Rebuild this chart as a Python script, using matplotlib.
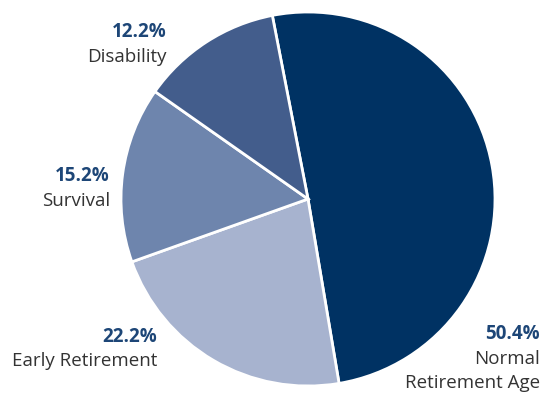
import matplotlib.pyplot as plt

categories = ["Normal\nRetirement Age", "Early Retirement", "Survival", "Disability"]
shares = [50.4, 22.2, 15.2, 12.2]
colors = ["#003263", "#a7b3cf", "#6e85ad", "#435d8c"]

W, H = 549, 397
fig = plt.figure(figsize=(W / 100, H / 100), dpi=100)
ax = fig.add_axes([0, 0, 1, 1])

ax.pie(shares, colors=colors, startangle=101, counterclock=False,
       center=(308, H - 199), radius=187, frame=True,
       wedgeprops=dict(edgecolor="white", linewidth=2))
ax.set_xlim(0, W)
ax.set_ylim(0, H)
ax.set_aspect("equal")
ax.axis("off")

# right edge x and vertical centre of the percentage line for each label
label_pos = {
    "Normal\nRetirement Age": (540, 334),
    "Early Retirement": (157, 337),
    "Survival": (110, 176),
    "Disability": (167, 32),
}
font = "Open Sans"
line_gap = 24.5
for cat, val in zip(categories, shares):
    x, y = label_pos[cat]
    ax.text(x, H - y, f"{val:.1f}%", ha="right", va="center", fontsize=13.5,
            fontweight="bold", color="#1d4677", family=font)
    for i, line in enumerate(cat.split("\n")):
        ax.text(x, H - y - line_gap * (i + 1), line, ha="right", va="center",
                fontsize=13.5, color="#333333", family=font)

fig.savefig("out.png", dpi=100)
